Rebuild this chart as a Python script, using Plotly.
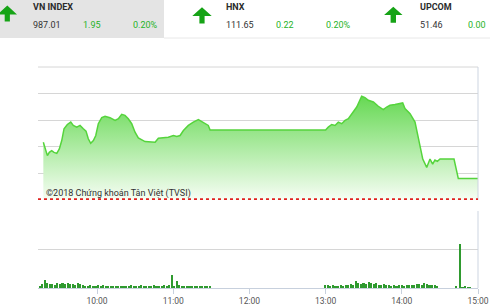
import plotly.graph_objects as go
import pandas as pd

W, H = 490, 308
BASE = pd.Timestamp("2018-01-01 09:00")

# ---- data ----
# intraday VN-Index (minutes after 09:00, index level)
price_minutes = [17.7, 19.1, 20.9, 22.4, 24.3, 26.1, 28.3, 30.3, 32.2, 34.0,
                 36.6, 39.3, 41.3, 44.0, 46.6, 49.2, 51.3, 53.1, 55.0, 57.1,
                 59.0, 61.0, 63.7, 66.3, 70.2, 74.2, 76.8, 79.4, 82.0, 84.6,
                 87.3, 89.9, 92.5, 97.8, 103.1, 105.7, 108.3, 112.2, 116.1, 120.1,
                 122.8, 125.4, 128.0, 131.9, 135.8, 139.8, 143.7, 147.6, 149.0, 240.0,
                 242.1, 244.8, 247.4, 250.0, 252.7, 255.3, 257.9, 260.6, 264.5, 268.4,
                 271.0, 273.6, 277.6, 281.5, 285.4, 288.1, 290.7, 294.6, 297.2, 300.7,
                 302.5, 306.5, 310.4, 312.2, 314.3, 316.5, 319.6, 322.2, 324.3, 326.1,
                 328.0, 330.1, 341.1, 344.5, 360.0]
price_values = [990.43, 989.80, 989.17, 989.48, 989.64, 989.48, 989.38, 989.80, 990.59, 991.70,
                992.10, 992.32, 992.01, 991.85, 992.01, 991.70, 991.47, 990.75, 990.33, 990.59,
                991.06, 992.17, 992.74, 992.86, 992.74, 992.48, 992.64, 993.05, 992.95, 992.64,
                992.17, 991.37, 990.84, 990.49, 990.49, 990.43, 990.80, 990.84, 990.90, 991.06,
                990.97, 991.06, 991.53, 992.01, 992.32, 992.55, 992.32, 992.01, 991.58, 991.58,
                991.85, 992.10, 992.01, 992.32, 992.17, 992.48, 992.64, 993.12, 993.74, 994.75,
                994.63, 994.37, 994.21, 993.81, 993.49, 993.74, 993.90, 993.97, 994.06, 994.12,
                993.59, 993.12, 992.32, 991.22, 989.95, 988.85, 988.06, 988.85, 988.38, 988.76,
                988.63, 988.85, 988.85, 987.01, 987.01]
ref_close = 985.06

# volume, every 2 minutes from 09:15
vol_morning = [0.06, 0.10, 0.22, 0.12, 0.10, 0.11, 0.09, 0.12, 0.10, 0.13,
               0.11, 0.12, 0.10, 0.11, 0.09, 0.12, 0.10, 0.08, 0.06, 0.05,
               0.07, 0.05, 0.06, 0.08, 0.05, 0.09, 0.05, 0.04, 0.05, 0.04,
               0.05, 0.06, 0.04, 0.05, 0.06, 0.05, 0.07, 0.05, 0.06, 0.05,
               0.07, 0.05, 0.06, 0.05, 0.06, 0.07, 0.05, 0.06, 0.05, 0.07,
               0.06, 0.08, 0.34, 0.06, 0.17, 0.07, 0.05, 0.06, 0.04, 0.05,
               0.06, 0.04, 0.05, 0.06, 0.04, 0.05, 0.04, 0.03]
# volume, every 2 minutes from 13:00
vol_afternoon = [0.09, 0.07, 0.06, 0.07, 0.06, 0.05, 0.07, 0.06, 0.08, 0.07,
                 0.10, 0.08, 0.18, 0.12, 0.10, 0.13, 0.11, 0.15, 0.12, 0.10,
                 0.13, 0.09, 0.08, 0.10, 0.07, 0.08, 0.06, 0.07, 0.06, 0.08,
                 0.07, 0.06, 0.08, 0.07, 0.09, 0.08, 0.10, 0.11, 0.09, 0.12,
                 0.10, 0.08, 0.09, 0.07, 0.06]
vol_close_minutes = [343, 346, 348, 350, 352, 354]
vol_close = [0.05, 1.14, 0.02, 0.03, 0.02, 0.02]

# header
idx_names = ["VN INDEX", "HNX", "UPCOM"]
idx_levels = ["987.01", "111.65", "51.46"]
idx_changes = ["1.95", "0.22", "0.00"]
idx_pcts = ["0.20%", "0.20%", ""]

# ---- helpers ----
def px(x):
    return x / W

def py(y):
    return 1 - y / H

def t(m):
    return BASE + pd.Timedelta(minutes=m)

price_t = [t(m) for m in price_minutes]
vol_t = ([t(15 + 2 * i) for i in range(len(vol_morning))]
         + [t(240 + 2 * i) for i in range(len(vol_afternoon))]
         + [t(m) for m in vol_close_minutes])
vol_v = vol_morning + vol_afternoon + vol_close

NARROW = "Liberation Sans Narrow, Arial Narrow, Roboto, sans-serif"
HEAD = "Roboto, Arial, sans-serif"

fig = go.Figure()
fig.add_trace(go.Scatter(
    x=price_t, y=price_values, mode="lines",
    line=dict(color="#55d43c", width=1.5),
    fill="tozeroy",
    fillgradient=dict(type="vertical",
                      colorscale=[[0, "rgb(248,254,246)"], [1, "rgb(92,214,72)"]],
                      start=985, stop=995.5),
    xaxis="x2", yaxis="y2", hoverinfo="skip", showlegend=False))

fig.add_trace(go.Bar(
    x=vol_t, y=vol_v, marker=dict(color="#2f9a2f", line=dict(width=0)),
    width=75000, xaxis="x", yaxis="y", showlegend=False))

shapes = []
# header box
shapes.append(dict(type="rect", xref="paper", yref="paper", x0=px(0), x1=px(164),
                   y0=py(38), y1=py(0), fillcolor="#e4e4e4", line=dict(width=0), layer="below"))
shapes.append(dict(type="line", xref="paper", yref="paper", x0=px(164), x1=px(490),
                   y0=py(38), y1=py(38), line=dict(color="#e8e8e8", width=1)))

def arrow(cx, tip, base, bottom, half_head, half_stem):
    pts = [(cx, tip), (cx + half_head, base), (cx + half_stem, base), (cx + half_stem, bottom),
           (cx - half_stem, bottom), (cx - half_stem, base), (cx - half_head, base)]
    d = "M " + " L ".join(f"{px(a):.5f},{py(b):.5f}" for a, b in pts) + " Z"
    return dict(type="path", xref="paper", yref="paper", path=d,
                fillcolor="#16a316", line=dict(width=0))

shapes.append(arrow(7.3, 5.5, 14.5, 21.5, 9.7, 2.6))
shapes.append(arrow(202.0, 7.3, 16.0, 23.5, 9.7, 2.6))
shapes.append(arrow(393.3, 6.7, 15.0, 22.7, 9.2, 2.7))

# top gridline of the price panel and right borders
shapes.append(dict(type="line", xref="paper", yref="paper", x0=px(38), x1=px(478),
                   y0=py(67), y1=py(67), line=dict(color="#d6d6d6", width=1)))
shapes.append(dict(type="line", xref="paper", yref="paper", x0=px(478), x1=px(478),
                   y0=py(200), y1=py(67), line=dict(color="#cdd5e1", width=1)))
shapes.append(dict(type="line", xref="paper", yref="paper", x0=px(478), x1=px(478),
                   y0=py(288), y1=py(211), line=dict(color="#cdd5e1", width=1)))
# reference close line
shapes.append(dict(type="line", xref="paper", yref="y2", x0=px(38), x1=px(478),
                   y0=ref_close, y1=ref_close, line=dict(color="#e0201f", width=2, dash="dot")))

annotations = []
cols_x = [(31, 81, 131), (223.5, 273.5, 323.5), (417.5, 466, 515)]
for i in range(3):
    xn, xc, xp = cols_x[i]
    annotations.append(dict(x=px(xn), y=py(7), xref="paper", yref="paper", xanchor="left",
                            yanchor="middle", showarrow=False, text=f"<b>{idx_names[i]}</b>",
                            font=dict(family=HEAD, size=9, color="#2b2b2b")))
    annotations.append(dict(x=px(xn), y=py(25.5), xref="paper", yref="paper", xanchor="left",
                            yanchor="middle", showarrow=False, text=idx_levels[i],
                            font=dict(family=HEAD, size=9, color="#333333")))
    annotations.append(dict(x=px(xc), y=py(25.5), xref="paper", yref="paper", xanchor="left",
                            yanchor="middle", showarrow=False, text=idx_changes[i],
                            font=dict(family=HEAD, size=9, color="#27b327")))
    if idx_pcts[i]:
        annotations.append(dict(x=px(xp), y=py(25.5), xref="paper", yref="paper", xanchor="left",
                                yanchor="middle", showarrow=False, text=idx_pcts[i],
                                font=dict(family=HEAD, size=9, color="#27b327")))

annotations.append(dict(x=px(44), y=py(193.5), xref="paper", yref="paper", xanchor="left",
                        yanchor="middle", showarrow=False,
                        text="©2018 Chứng khoán Tân Việt (TVSI)",
                        font=dict(family=NARROW, size=9, color="#333333")))

xdom = [px(38), px(478)]
fig.update_layout(
    template="none",
    width=W, height=H,
    margin=dict(l=0, r=0, t=0, b=0, pad=0),
    paper_bgcolor="white", plot_bgcolor="rgba(0,0,0,0)",
    showlegend=False, bargap=0,
    xaxis=dict(domain=xdom, anchor="y", type="date",
               range=[t(13.5), t(360)], tick0=BASE, dtick=3600000, tickformat="%H:%M",
               showgrid=False, showline=True, linecolor="#c7d0dd", linewidth=1,
               ticks="outside", ticklen=5, tickcolor="#c7d0dd",
               tickfont=dict(family=NARROW, size=8.5, color="#555555"),
               zeroline=False, automargin=False, fixedrange=True),
    xaxis2=dict(domain=xdom, anchor="y2", type="date", matches="x",
                showticklabels=False, showgrid=False, showline=False, ticks="",
                zeroline=False, automargin=False),
    yaxis=dict(domain=[py(288), py(211)], anchor="x", range=[0, 2], tick0=0, dtick=1,
               side="right", showgrid=True, gridcolor="#d6d6d6", gridwidth=1,
               zeroline=False, showline=False, ticks="", ticklabelstandoff=16,
               tickfont=dict(family=HEAD, size=9, color="#f0a040"), automargin=False),
    yaxis2=dict(domain=[py(200), py(67)], anchor="x2", range=[985, 997.5], tick0=985, dtick=2.5,
                side="right", showgrid=True, gridcolor="#d6d6d6", gridwidth=1,
                zeroline=False, showline=False, ticks="", ticklabelstandoff=16,
                tickfont=dict(family=HEAD, size=9, color="#f0a040"), automargin=False),
    shapes=shapes,
    annotations=annotations,
)

fig.write_html("out.html")
